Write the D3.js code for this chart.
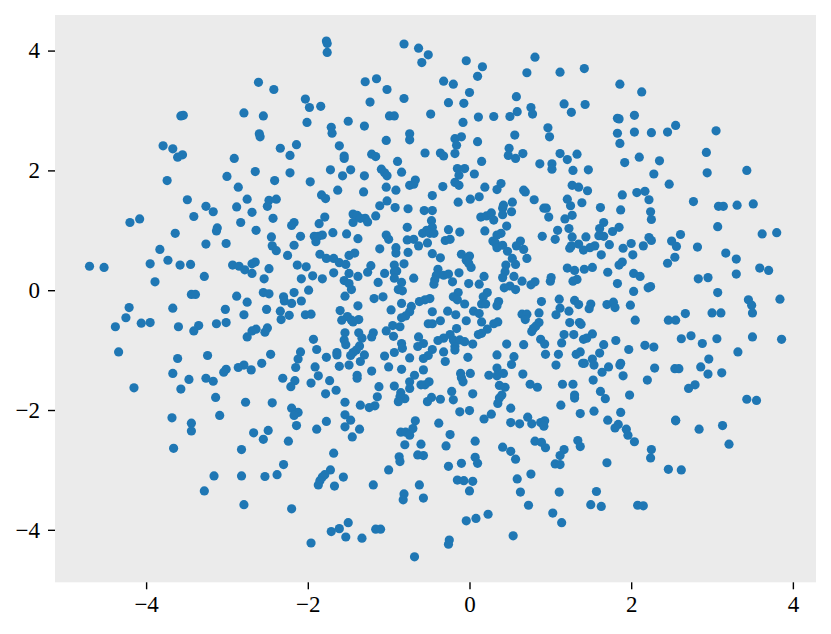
<!DOCTYPE html>
<html>
<head>
<meta charset="utf-8">
<script src="https://cdnjs.cloudflare.com/ajax/libs/d3/7.8.5/d3.min.js"></script>
<style>
  html, body { margin: 0; padding: 0; background: #fff; }
  svg { display: block; }
  .tick text { font-family: "Liberation Serif", serif; font-size: 23px; fill: #000; }
  .tick line { stroke: #000; stroke-width: 1.4; }
</style>
</head>
<body>
<div id="chart"></div>
<script>
var xDomain = [-5.127, 4.286];
var yDomain = [-4.876, 4.594];
var xTicks = [-4, -2, 0, 2, 4];
var yTicks = [-4, -2, 0, 2, 4];

// [x, y]
var points = [
[-2.61,3.47],[-2.42,3.35],[-3.57,2.91],[-3.54,2.92],[-2.79,2.96],[-2.55,2.91],[-2.60,2.61],[-2.59,2.56],[-3.79,2.41],[-3.67,2.36],
[-3.61,2.22],[-3.55,2.26],[-2.91,2.20],[-2.65,1.98],[-3.74,1.83],[-3.00,1.90],[-2.41,1.83],[-2.86,1.72],[-3.49,1.51],[-2.75,1.52],
[-3.26,1.40],[-2.88,1.39],[-2.48,1.50],[-2.39,1.52],[-2.50,1.40],
[-3.17,1.31],[-2.69,1.30],[-3.41,1.23],[-2.43,1.20],[-4.08,1.19],[-4.20,1.13],[-2.83,1.13],[-3.12,1.04],[-3.13,0.99],[-2.64,1.00],
[-3.64,0.95],[-2.45,0.89],[-3.26,0.77],[-3.01,0.78],[-2.44,0.74],[-2.39,0.66],[-3.83,0.68],[-3.73,0.50],[-3.95,0.44],[-3.58,0.42],
[-3.45,0.43],[-2.93,0.42],[-2.85,0.40],[-2.78,0.34],[-2.69,0.44],[-2.65,0.47],[-2.69,0.28],[-2.48,0.36],[-4.70,0.40],[-4.52,0.38],
[-3.28,0.23],[-2.54,0.19],[-3.89,0.14],[-2.55,-0.04],[-2.48,-0.06],[-3.44,-0.07],[-3.39,-0.07],[-2.88,-0.10],[-2.75,-0.20],[-4.21,-0.29],
[-3.67,-0.30],[-3.02,-0.32],[-2.51,-0.32],[-2.79,-0.41],[-4.25,-0.46],[-4.06,-0.55],[-3.95,-0.54],[-3.13,-0.56],[-3.01,-0.54],[-3.35,-0.59],
[-3.60,-0.61],[-4.38,-0.61],[-3.41,-0.68],[-2.50,-0.63],[-2.64,-0.65],[-2.69,-0.68],[-2.53,-0.70],[-2.75,-0.78],[-4.34,-1.03],[-2.46,-1.07],
[-3.24,-1.09],[-3.61,-1.14],[-2.57,-1.22],[-2.79,-1.25],[-2.86,-1.29],[-3.01,-1.32],[-3.04,-1.37],[-2.70,-1.33],[-3.67,-1.39],[-3.26,-1.47],
[-3.17,-1.52],[-3.47,-1.49],[-4.15,-1.63],[-3.57,-1.65],[-3.14,-1.79],[-2.77,-1.87],[-2.44,-1.88],
[-3.68,-2.13],[-3.44,-2.22],[-3.44,-2.35],[-3.09,-2.09],[-3.66,-2.64],[-2.67,-2.38],[-2.49,-2.34],[-2.55,-2.49],[-2.82,-2.66],[-3.16,-3.10],
[-2.82,-3.10],[-2.53,-3.11],[-2.38,-3.08],[-3.28,-3.35],[-2.79,-3.58],
[-1.77,4.16],[-1.76,4.12],[-1.76,3.97],[-0.81,4.11],[-0.63,4.04],[-0.51,3.93],[-0.59,3.80],[-0.04,3.83],[0.16,3.73],[0.81,3.89],
[0.71,3.63],[0.10,3.57],[-0.32,3.49],[-0.20,3.44],[-1.29,3.48],[-1.15,3.53],[-1.02,3.35],[0.00,3.30],[0.58,3.23],[-2.03,3.19],
[-0.81,3.20],[-1.23,3.14],[-0.26,3.13],[-0.07,3.12],[-1.98,3.05],[-1.84,3.07],[0.76,3.05],[0.59,2.98],[0.78,2.94],[-0.99,2.91],
[-0.93,2.91],[-0.48,2.94],[0.11,2.89],[0.30,2.90],[0.50,2.90],[-2.01,2.80],[-1.50,2.82],[-0.08,2.80],[-1.30,2.74],[-1.71,2.72],
[-1.70,2.62],[0.97,2.71],[-0.74,2.61],[-0.74,2.51],[-1.03,2.50],[-0.18,2.53],[-0.10,2.56],[0.56,2.59],[0.99,2.56],[-1.61,2.41],
[-2.14,2.43],[-2.34,2.37],[0.10,2.48],[-0.16,2.42],[0.49,2.37],[-2.22,2.25],[-1.21,2.27],[-1.16,2.23],[-1.55,2.24],[-1.55,2.20],
[-0.55,2.29],[-0.36,2.29],[-0.32,2.24],[-0.18,2.28],[0.48,2.25],[0.66,2.28],[0.57,2.20],[-0.89,2.15],[0.15,2.15],[0.87,2.11],
[-1.72,2.01],[-1.47,2.01],[-1.09,2.02],[-1.05,1.96],[-1.02,1.91],[-0.84,1.97],[-2.22,1.96],[-1.57,1.91],[-1.30,1.91],[-0.15,2.03],
[-0.06,2.03],[-0.13,1.92],[0.06,1.94],[-1.97,1.81],[-0.67,1.84],[-0.18,1.80],[-0.13,1.75],[-0.74,1.75],[-0.69,1.77],[-1.03,1.72],
[0.39,1.78],[0.34,1.68],[0.19,1.72],[-1.63,1.67],[-1.31,1.64],[-0.91,1.67],[-0.33,1.73],[0.67,1.67],[0.69,1.64],[-1.83,1.59],
[-1.78,1.53],[-0.46,1.58],[0.12,1.56],[0.01,1.52],[-0.14,1.47],[0.80,1.51],[0.53,1.47],[0.42,1.42],[0.41,1.37],[-1.02,1.49],
[-1.11,1.41],[-0.92,1.38],[-0.76,1.36],[0.92,1.37],[0.95,1.37],
[1.12,3.64],[1.42,3.70],[1.86,3.44],[2.13,3.31],[1.17,3.11],[1.43,3.10],[1.26,2.97],[2.04,2.92],[1.83,2.87],[1.85,2.86],
[2.55,2.75],[3.05,2.66],[1.83,2.62],[2.04,2.64],[2.25,2.63],[2.45,2.64],[1.86,2.45],[2.93,2.30],[1.12,2.28],[1.33,2.27],
[1.21,2.18],[2.10,2.22],[1.02,2.11],[1.02,2.02],[1.92,2.13],[2.35,2.16],[1.28,2.00],[1.47,2.01],[2.28,1.94],[2.94,1.96],
[3.43,2.00],[1.27,1.75],[1.35,1.72],[1.46,1.66],[2.47,1.77],[1.89,1.59],[2.07,1.63],[2.17,1.65],[2.22,1.51],[2.77,1.48],
[1.21,1.52],[1.39,1.46],[1.25,1.41],[1.62,1.38],[3.08,1.40],[3.14,1.40],[3.31,1.42],[3.51,1.44],
[1.87,1.34],[2.24,1.31],[1.27,1.25],[1.18,1.19],[2.25,1.18],[3.07,1.06],[1.66,1.13],[1.61,1.03],[1.85,1.05],[1.77,0.98],
[1.09,1.00],[1.23,1.03],[1.60,0.91],[1.66,0.90],[2.61,0.93],[3.62,0.94],[3.80,0.96],[1.27,0.89],[1.44,0.89],[1.06,0.85],
[2.22,0.88],[2.25,0.83],[2.00,0.78],[2.50,0.82],[2.56,0.73],[1.73,0.76],[2.15,0.74],[1.35,0.77],[1.55,0.74],[2.82,0.72],
[1.26,0.74],[1.24,0.70],[1.49,0.71],[1.41,0.67],[1.90,0.70],[3.17,0.62],[2.02,0.59],[1.63,0.59],[2.54,0.55],[3.30,0.52],
[1.89,0.47],[1.85,0.42],[2.45,0.45],[3.59,0.37],[3.70,0.33],[1.21,0.37],[1.30,0.33],[1.42,0.35],[1.52,0.38],[1.71,0.30],
[2.03,0.28],[2.11,0.23],[3.30,0.27],[1.01,0.21],[1.00,0.15],[1.33,0.18],[1.28,0.15],[2.83,0.19],[2.95,0.21],[1.83,0.11],
[2.24,0.06],[2.21,0.04],[2.03,-0.02],[3.07,-0.04],[3.84,-0.15],[3.45,-0.16],[1.11,-0.15],[1.30,-0.17],[1.35,-0.24],[3.49,-0.25],
[3.50,-0.38],[1.99,-0.25],[1.50,-0.23],[1.48,-0.31],[1.70,-0.24],[1.78,-0.20],[1.80,-0.29],[1.12,-0.30],[1.23,-0.35],[1.07,-0.41],
[3.00,-0.38],[3.11,-0.38],[2.67,-0.39],[2.05,-0.50],[2.46,-0.50],[2.55,-0.50],[1.24,-0.54],[1.36,-0.54],[1.38,-0.57],[1.52,-0.73],
[1.17,-0.74],[1.29,-0.74],[2.74,-0.76],[2.62,-0.81],[3.06,-0.81],[3.50,-0.78],[3.86,-0.82],[1.41,-0.82],[1.45,-0.80],[1.14,-0.88],
[1.81,-0.84],[2.88,-0.89],[1.66,-0.91],[2.17,-0.92],[2.28,-0.95],[1.97,-0.99],[3.32,-1.03],[1.37,-1.03],[1.32,-1.07],[1.10,-1.07],
[1.61,-1.05],[1.52,-1.15],[1.40,-1.22],[1.42,-1.22],[1.54,-1.25],[2.96,-1.15],[1.87,-1.22],[1.86,-1.25],[1.72,-1.28],[1.07,-1.25],
[2.29,-1.30],[2.86,-1.28],[2.54,-1.31],[2.59,-1.31],[1.64,-1.37],[2.95,-1.40],[3.12,-1.38],[1.90,-1.43],[2.20,-1.50],[1.53,-1.50],
[1.15,-1.57],[1.28,-1.57],[2.79,-1.58],[2.71,-1.64],[1.62,-1.69],[1.30,-1.75],[1.30,-1.80],[1.98,-1.75],[1.68,-1.81],[3.43,-1.82],
[3.55,-1.84],[1.13,-1.92],
[1.54,-2.02],[1.87,-2.04],[1.37,-2.06],[1.71,-2.17],[2.55,-2.17],[2.55,-2.18],[1.84,-2.24],[1.80,-2.30],[3.13,-2.26],[2.84,-2.32],
[1.94,-2.32],[1.96,-2.42],[2.04,-2.53],[1.34,-2.51],[1.37,-2.61],[1.17,-2.66],[1.12,-2.76],[2.25,-2.66],[2.24,-2.80],[3.21,-2.57],
[1.70,-2.88],[1.06,-2.90],[1.12,-2.91],[2.46,-2.99],[2.62,-3.00],[1.57,-3.36],[1.11,-3.37],[1.50,-3.58],[1.63,-3.61],[2.08,-3.59],
[2.15,-3.60],[1.03,-3.72],[1.14,-3.88],
[-0.56,1.33],[-0.46,1.33],[-1.79,1.22],[-2.17,1.13],[-2.20,1.08],[-1.86,1.11],[-1.44,1.27],[-1.39,1.25],[-1.44,1.13],[-1.35,1.20],
[-1.29,1.20],[-1.26,1.14],[-1.16,1.24],[-0.77,1.05],[-0.47,1.16],[0.14,1.22],[0.21,1.24],[0.27,1.29],[0.30,1.17],[0.41,1.26],
[0.52,1.31],[0.98,1.22],[0.46,1.07],[-0.26,1.01],[-0.12,0.97],[0.19,0.99],[0.39,0.95],[-0.46,1.05],[-0.53,1.00],[-0.58,0.95],
[-0.49,0.95],[-0.44,0.95],[-0.52,0.79],[-2.09,0.90],[-1.92,0.90],[-1.87,0.90],[-1.82,0.92],[-1.69,0.96],[-1.52,0.94],[-1.38,0.86],
[-1.90,0.81],[-1.03,0.92],[-1.00,0.85],[-0.77,0.84],[-0.69,0.85],[-0.63,0.74],[-0.30,0.83],[-0.24,0.85],[0.90,0.90],[0.34,0.92],
[0.29,0.82],[0.32,0.79],[-2.17,0.75],[-1.11,0.69],[-0.91,0.71],[-0.91,0.62],[-0.76,0.63],[-0.46,0.61],[-0.36,0.54],[-0.10,0.60],
[0.00,0.57],[-0.04,0.50],[-0.01,0.45],[0.02,0.38],[0.34,0.71],[0.41,0.75],[0.47,0.65],[0.63,0.82],[0.58,0.74],[0.67,0.68],
[0.53,0.53],[0.57,0.43],[0.71,0.53],[-2.25,0.58],[-1.85,0.60],[-1.77,0.53],[-1.68,0.53],[-1.61,0.46],[-1.53,0.43],[-1.49,0.58],
[-1.42,0.62],[-2.13,0.42],[-2.02,0.39],[-1.22,0.41],[-1.26,0.30],[-0.93,0.42],[-0.81,0.44],[-0.90,0.32],[-0.93,0.31],[-1.05,0.28],
[-1.68,0.29],[-1.49,0.28],[-1.94,0.24],[-2.08,0.19],[-1.82,0.19],[-1.55,0.16],[-1.38,0.23],[-1.49,0.11],[-1.46,0.01],[-1.13,0.13],
[-0.93,0.20],[-0.69,0.20],[-0.39,0.35],[-0.41,0.25],[-0.32,0.25],[-0.26,0.27],[-0.13,0.29],[-0.43,0.17],[-0.44,0.10],[-0.21,0.14],
[-0.01,0.11],[0.12,0.10],[0.18,0.23],[0.45,0.42],[0.44,0.31],[0.41,0.21],[0.55,0.23],[0.65,0.15],[0.76,0.09],[0.81,0.14],
[0.50,0.07],[0.43,0.04],[0.57,0.01],[-0.84,0.13],[-0.88,0.01],[-0.83,-0.01],[-1.99,0.00],[-2.17,-0.04],[-1.54,-0.10],[-1.07,-0.11],
[-1.18,-0.14],[-2.30,-0.11],[-2.29,-0.18],[-2.20,-0.22],[-2.08,-0.18],[-0.14,-0.04],[-0.20,-0.11],[-0.15,-0.16],[0.22,-0.04],[0.17,-0.11],
[-0.06,-0.23],[0.15,-0.23],[0.20,-0.23],[0.36,-0.19],[0.34,-0.26],[0.89,-0.19],[-0.49,-0.14],[-0.55,-0.16],[-0.62,-0.19],[-0.84,-0.22],
[-0.72,-0.27],[-0.97,-0.33],[-1.38,-0.26],[-1.60,-0.34],[-2.34,-0.35],[-2.33,-0.49],[-2.23,-0.42],[-2.03,-0.41],[-1.96,-0.40],[-0.46,-0.36],
[-0.27,-0.35],[-0.17,-0.41],[0.05,-0.35],[0.12,-0.39],[-0.74,-0.36],[-0.79,-0.43],[-0.84,-0.46],[0.65,-0.40],[0.71,-0.40],[0.86,-0.38],
[0.69,-0.49],[-1.51,-0.44],[-1.58,-0.50],[-1.46,-0.50],[-1.37,-0.49],[-1.44,-0.53],[-0.04,-0.51],[-0.36,-0.51],[-0.51,-0.56],[-0.46,-0.56],
[0.15,-0.53],[0.35,-0.53],[0.30,-0.56],[-0.95,-0.59],[-0.86,-0.61],[-1.03,-0.68],[0.86,-0.54],[0.82,-0.60],[0.79,-0.64],[0.77,-0.69],
[-0.16,-0.64],[0.22,-0.65],[0.15,-0.72],[0.11,-0.74],[-1.54,-0.71],[-1.37,-0.71],[-1.19,-0.71],[-1.21,-0.78],[-0.94,-0.77],[-0.63,-0.78],
[-0.24,-0.74],[-0.32,-0.80],[-0.39,-0.84],[-0.20,-0.83],[-0.12,-0.83],[-0.06,-0.86],[-1.93,-0.82],[-1.55,-0.83],[-1.53,-0.91],[-1.33,-0.80],
[-1.36,-0.93],[-0.84,-0.89],[-0.57,-0.89],[-0.64,-0.94],[-0.83,-0.97],[0.04,-0.90],[0.46,-0.90],[0.67,-0.91],[0.88,-0.82],[0.93,-0.90],
[-0.18,-0.94],[-0.18,-1.00],[-0.46,-0.99],[-1.40,-1.00],[-1.44,-1.04],[-1.47,-1.09],[-1.30,-1.08],[-1.35,-1.19],[-2.09,-1.03],[-1.89,-0.99],
[-2.12,-1.15],[-1.64,-1.04],[-1.64,-1.08],[-1.77,-1.12],[-0.93,-1.04],[-1.05,-1.10],[-0.74,-1.13],[-0.51,-1.09],[-0.57,-1.14],[-0.32,-1.03],
[-0.02,-1.12],[0.34,-1.08],[0.94,-1.07],[0.55,-1.11],[0.52,-1.24],[-2.15,-1.29],[-1.91,-1.28],[-1.61,-1.27],[-1.49,-1.25],[-1.00,-1.28],
[-0.30,-1.19],[-0.84,-1.32],[-0.57,-1.33],[-1.21,-1.35],[0.01,-1.39],[-0.11,-1.39],[-0.10,-1.46],[-0.08,-1.53],[0.34,-1.30],[0.24,-1.42],
[0.34,-1.43],[0.42,-1.39],[0.66,-1.40],[-1.87,-1.43],[-1.39,-1.42],[-1.39,-1.47],[-2.31,-1.47],[-2.16,-1.51],[-2.21,-1.61],[-1.96,-1.55],
[-1.73,-1.51],[-0.68,-1.42],[-0.74,-1.53],[-0.50,-1.53],[-0.55,-1.58],[-0.60,-1.58],[-0.74,-1.64],[-0.93,-1.60],[-1.12,-1.61],[0.37,-1.59],
[0.44,-1.62],[0.75,-1.57],[0.84,-1.62],[-1.65,-1.67],[-1.78,-1.73],[-1.14,-1.78],[-0.85,-1.71],[-0.22,-1.69],[0.04,-1.73],[0.40,-1.75],
[0.37,-1.80],[-0.80,-1.81],[-0.86,-1.78],[-0.47,-1.79],[-0.52,-1.86],[-0.36,-1.82],[-0.20,-1.83],[-1.54,-1.87],[-0.88,-1.86],[-1.35,-1.92],
[-1.17,-1.93],[-1.24,-1.96],[0.35,-1.89],[0.51,-1.97],[-2.20,-1.97],
[-0.12,-2.03],[0.00,-2.01],[-2.12,-2.04],[-2.17,-2.09],[-2.14,-2.26],[-1.54,-2.08],[-1.47,-2.17],[-1.54,-2.28],[-1.77,-2.19],[-1.89,-2.32],
[-1.36,-2.32],[-1.45,-2.45],[-2.24,-2.52],[-0.67,-2.18],[-0.70,-2.31],[-0.85,-2.37],[-0.79,-2.37],[-0.74,-2.42],[-0.38,-2.22],[0.18,-2.15],
[0.27,-2.07],[0.51,-2.21],[0.62,-2.23],[0.72,-2.12],[0.77,-2.23],[0.88,-2.21],[0.93,-2.18],[0.92,-2.27],[-0.24,-2.41],[0.07,-2.52],
[-0.60,-2.57],[-0.80,-2.58],[-0.29,-2.60],[0.41,-2.62],[0.51,-2.69],[0.81,-2.52],[0.89,-2.54],[0.94,-2.63],[-1.68,-2.72],[-0.87,-2.78],
[-0.86,-2.86],[-0.64,-2.75],[-0.57,-2.76],[0.07,-2.79],[0.10,-2.89],[-0.10,-2.89],[0.57,-2.82],[-2.30,-2.91],[-0.26,-2.94],[-1.72,-3.00],
[-1.00,-3.00],[-1.79,-3.08],[-1.82,-3.12],[-1.85,-3.18],[-1.87,-3.25],[-1.56,-3.12],[-1.67,-3.27],[0.76,-3.07],[0.59,-3.15],[-0.15,-3.17],
[-0.07,-3.18],[0.04,-3.19],[-1.19,-3.25],[-0.62,-3.25],[0.63,-3.37],[0.00,-3.35],[-0.81,-3.40],[-0.82,-3.50],[-0.57,-3.47],[0.73,-3.59],
[-2.20,-3.65],[0.23,-3.74],[0.08,-3.81],[-0.04,-3.85],[-1.50,-3.88],[-1.61,-3.98],[-1.71,-4.03],[-1.53,-4.12],[-1.33,-4.14],[-1.96,-4.22],
[-1.16,-3.99],[-1.10,-3.99],[0.54,-4.10],[-0.25,-4.17],[-0.26,-4.24],[-0.68,-4.45]
];

var svg = d3.select("#chart")
  .append("svg")
  .attr("width", 831)
  .attr("height", 634);

var xScale = d3.scaleLinear().domain(xDomain).range([55, 816]);
var yScale = d3.scaleLinear().domain(yDomain).range([582.3, 15]);

// plot background
svg.append("rect")
  .attr("x", xScale.range()[0])
  .attr("y", yScale.range()[1])
  .attr("width", xScale.range()[1] - xScale.range()[0])
  .attr("height", yScale.range()[0] - yScale.range()[1])
  .attr("fill", "#ebebeb");

var xAxis = d3.axisBottom(xScale).tickValues(xTicks).tickSize(7).tickPadding(6);
var yAxis = d3.axisLeft(yScale).tickValues(yTicks).tickSize(7).tickPadding(8);

svg.append("g")
  .attr("class", "x axis")
  .attr("transform", "translate(0," + yScale.range()[0] + ")")
  .call(xAxis)
  .call(function (g) { g.select(".domain").remove(); });

svg.append("g")
  .attr("class", "y axis")
  .attr("transform", "translate(" + xScale.range()[0] + ",0)")
  .call(yAxis)
  .call(function (g) { g.select(".domain").remove(); });

svg.selectAll(".dot")
  .data(points)
  .enter().append("circle")
  .attr("class", "dot")
  .attr("r", 4.6)
  .attr("cx", function (d) { return xScale(d[0]); })
  .attr("cy", function (d) { return yScale(d[1]); })
  .attr("fill", "#1f77b4");
</script>
</body>
</html>
